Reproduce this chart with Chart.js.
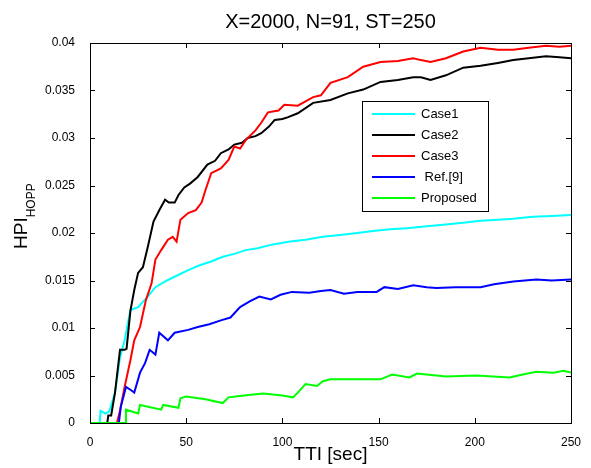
<!DOCTYPE html>
<html>
<head>
<meta charset="utf-8">
<script src="https://cdn.jsdelivr.net/npm/chart.js@4.4.1/dist/chart.umd.min.js"></script>
<style>
  body { margin: 0; background: #fff; }
  canvas { display: block; }
</style>
</head>
<body>
<canvas id="hpiChart" width="591" height="468"></canvas>
<script>
// ================= Data =================
const chartTitle = "X=2000, N=91, ST=250";
const xTicks = [0, 50, 100, 150, 200, 250];
const yTicks = [0, 0.005, 0.01, 0.015, 0.02, 0.025, 0.03, 0.035, 0.04];

const case1T = [0, 5, 5.5, 8, 10, 13, 15.6, 18, 21, 25, 30, 34, 40, 45, 51, 57, 63, 69, 75, 81, 87, 95, 104, 112, 121, 130, 139, 147, 156, 165, 175, 185, 195, 203, 212, 220, 230, 240, 250];
const case1V = [0, 0, 0.0013, 0.0010, 0.0012, 0.0032, 0.0069, 0.0087, 0.0119, 0.0122, 0.0133, 0.0143, 0.0150, 0.0155, 0.0161, 0.0166, 0.0170, 0.0175, 0.0178, 0.0182, 0.0184, 0.0188, 0.0191, 0.0193, 0.0196, 0.0198, 0.0200, 0.0202, 0.0204, 0.0205, 0.0207, 0.0209, 0.0211, 0.0213, 0.0214, 0.0215, 0.0217, 0.0218, 0.0219];

const case2T = [0, 9, 9.5, 11, 13, 15.6, 18, 19, 21, 23, 25, 27.5, 30, 33, 36, 39, 41, 44, 46, 49, 52, 56, 61, 65, 68, 72, 75, 79, 82, 86, 89, 93, 96, 100, 103, 108, 116, 125, 134, 142, 151, 160, 168, 172, 177, 185, 194, 203, 212, 220, 228, 237, 244, 250];
const case2V = [0, 0, 0.0008, 0.0008, 0.0032, 0.0077, 0.0077, 0.0078, 0.0118, 0.0140, 0.0158, 0.0164, 0.0185, 0.0212, 0.0224, 0.0235, 0.0232, 0.0232, 0.0240, 0.0248, 0.0252, 0.0259, 0.0272, 0.0276, 0.0284, 0.0288, 0.0293, 0.0295, 0.0300, 0.0302, 0.0305, 0.0312, 0.0319, 0.0320, 0.0322, 0.0326, 0.0337, 0.0340, 0.0347, 0.0351, 0.0359, 0.0361, 0.0364, 0.0364, 0.0361, 0.0366, 0.0374, 0.0376, 0.0379, 0.0382, 0.0384, 0.0386, 0.0385, 0.0384];

const case3T = [0, 14, 15.6, 18, 21, 23, 26, 29, 32, 34, 37, 40.5, 43, 45, 47, 51, 55, 58, 60, 63, 68, 72, 75, 78, 81, 86, 89, 92.5, 98, 101, 108, 116, 120, 125, 134, 142, 151, 160, 168, 172, 177, 185, 194, 203, 212, 220, 228, 237, 244, 250];
const case3V = [0, 0, 0.0013, 0.0038, 0.0066, 0.0087, 0.0101, 0.0129, 0.0147, 0.0172, 0.0182, 0.0193, 0.0196, 0.0191, 0.0214, 0.0221, 0.0224, 0.0232, 0.0245, 0.0263, 0.0268, 0.0277, 0.0291, 0.0289, 0.0298, 0.0308, 0.0316, 0.0327, 0.0329, 0.0335, 0.0334, 0.0343, 0.0345, 0.0358, 0.0364, 0.0375, 0.0380, 0.0381, 0.0384, 0.0382, 0.0380, 0.0384, 0.0391, 0.0395, 0.0393, 0.0393, 0.0395, 0.0397, 0.0396, 0.0397];

const refT = [0, 15, 16, 18.7, 21, 23, 26, 28.6, 31, 34, 36, 40.5, 44, 51, 56, 62, 68, 73, 78, 83, 88, 94, 99, 105, 114, 120, 125, 132, 139, 149, 153, 160, 168, 175, 180, 190, 203, 210, 220, 232, 240, 250];
const refV = [0, 0, 0.0017, 0.0038, 0.0035, 0.0032, 0.0053, 0.0063, 0.0077, 0.0072, 0.0095, 0.0087, 0.0095, 0.0098, 0.0101, 0.0104, 0.0108, 0.0111, 0.0122, 0.0128, 0.0133, 0.0130, 0.0135, 0.0138, 0.0137, 0.0139, 0.0140, 0.0136, 0.0138, 0.0138, 0.0143, 0.0141, 0.0145, 0.0143, 0.0142, 0.0143, 0.0143, 0.0146, 0.0149, 0.0151, 0.0150, 0.0151];

const propT = [0, 18.5, 18.7, 25, 26, 37, 38, 46, 47, 50, 60, 69, 72, 80, 90, 100, 105.5, 108, 112, 118, 121, 125, 137, 151, 157, 166, 170, 185, 201, 218, 225, 232, 241, 246, 250];
const propV = [0, 0, 0.0014, 0.0010, 0.0019, 0.0014, 0.0019, 0.0016, 0.0026, 0.0028, 0.0025, 0.0021, 0.0027, 0.0029, 0.0031, 0.0029, 0.0027, 0.0032, 0.0041, 0.0039, 0.0044, 0.0046, 0.0046, 0.0046, 0.0051, 0.0048, 0.0052, 0.0049, 0.0050, 0.0048, 0.0051, 0.0054, 0.0053, 0.0055, 0.0053];

const seriesLabels = ["Case1", "Case2", "Case3", " Ref.[9]", "Proposed"];
const seriesColors = ["#00ffff", "#000000", "#ff0000", "#0000ff", "#00ff00"];

// ================= Helpers =================
const FONT = "'Liberation Sans', Arial, sans-serif";
Chart.defaults.font.family = FONT;
Chart.defaults.color = "#000";

function toPoints(ts, vs) {
    return ts.map((t, i) => ({ x: t, y: vs[i] }));
}

const seriesData = [
    toPoints(case1T, case1V),
    toPoints(case2T, case2V),
    toPoints(case3T, case3V),
    toPoints(refT, refV),
    toPoints(propT, propV)
];

// ================= Box, inward ticks, title, y label, legend =================
const matlabFrame = {
    id: "matlabFrame",
    afterDraw(chart) {
        const ctx = chart.ctx;
        const ca = chart.chartArea;
        const xs = chart.scales.x;
        const ys = chart.scales.y;

        ctx.save();
        ctx.strokeStyle = "#000";
        ctx.lineWidth = 1;
        ctx.strokeRect(Math.round(ca.left) + 0.5, Math.round(ca.top) + 0.5,
            Math.round(ca.right - ca.left), Math.round(ca.bottom - ca.top));

        const tl = 5;
        ctx.beginPath();
        xTicks.forEach(v => {
            const px = Math.round(xs.getPixelForValue(v)) + 0.5;
            ctx.moveTo(px, ca.bottom); ctx.lineTo(px, ca.bottom - tl);
            ctx.moveTo(px, ca.top); ctx.lineTo(px, ca.top + tl);
        });
        yTicks.forEach(v => {
            const py = Math.round(ys.getPixelForValue(v)) + 0.5;
            ctx.moveTo(ca.left, py); ctx.lineTo(ca.left + tl, py);
            ctx.moveTo(ca.right, py); ctx.lineTo(ca.right - tl, py);
        });
        ctx.stroke();

        // title
        ctx.fillStyle = "#000";
        ctx.font = "20px " + FONT;
        ctx.textAlign = "center";
        ctx.textBaseline = "alphabetic";
        ctx.fillText(chartTitle, (ca.left + ca.right) / 2, 28);

        // y label HPI with subscript HOPP
        ctx.save();
        ctx.translate(27, 249);
        ctx.rotate(-Math.PI / 2);
        ctx.textAlign = "left";
        ctx.font = "19px " + FONT;
        ctx.fillText("HPI", 0, 0);
        const w = ctx.measureText("HPI").width;
        ctx.font = "12px " + FONT;
        ctx.fillText("HOPP", w, 8);
        ctx.restore();

        // legend
        const lx = ca.left + 272, ly = ca.top + 58, lw = 126, lh = 110;
        ctx.fillStyle = "#fff";
        ctx.fillRect(lx, ly, lw, lh);
        ctx.strokeRect(lx + 0.5, ly + 0.5, lw, lh);
        ctx.font = "13px " + FONT;
        ctx.textAlign = "left";
        ctx.textBaseline = "middle";
        chart.data.datasets.forEach((ds, i) => {
            const y = ly + 13 + i * 21;
            ctx.strokeStyle = ds.borderColor;
            ctx.lineWidth = 2;
            ctx.beginPath();
            ctx.moveTo(lx + 10, y);
            ctx.lineTo(lx + 53, y);
            ctx.stroke();
            ctx.fillStyle = "#000";
            ctx.fillText(ds.label, lx + 59, y);
        });
        ctx.restore();
    }
};

// ================= Chart =================
const ctx = document.getElementById("hpiChart").getContext("2d");

new Chart(ctx, {
    type: "line",
    data: {
        datasets: seriesData.map((pts, i) => ({
            label: seriesLabels[i],
            data: pts,
            borderColor: seriesColors[i],
            borderWidth: 2,
            pointRadius: 0,
            tension: 0,
            fill: false,
            order: 5 - i
        }))
    },
    options: {
        responsive: false,
        animation: false,
        layout: { padding: { top: 43, right: 20, left: 0, bottom: 0 } },
        plugins: {
            legend: { display: false },
            title: { display: false },
            tooltip: { enabled: false }
        },
        scales: {
            x: {
                type: "linear",
                min: 0,
                max: 250,
                afterBuildTicks(scale) {
                    scale.ticks = xTicks.map(v => ({ value: v }));
                },
                ticks: { font: { size: 12 }, color: "#000", padding: 4, maxRotation: 0 },
                grid: { display: false },
                border: { display: false },
                title: {
                    display: true,
                    text: "TTI [sec]",
                    font: { size: 19 },
                    color: "#000",
                    padding: { top: 0, bottom: 2 }
                },
                afterFit(scale) { scale.height = 45; }
            },
            y: {
                type: "linear",
                min: 0,
                max: 0.04,
                afterBuildTicks(scale) {
                    scale.ticks = yTicks.map(v => ({ value: v }));
                },
                ticks: {
                    font: { size: 12 },
                    color: "#000",
                    padding: 7,
                    callback: v => String(+v.toFixed(3))
                },
                grid: { display: false },
                border: { display: false },
                afterFit(scale) { scale.width = 90; }
            }
        }
    },
    plugins: [matlabFrame]
});
</script>
</body>
</html>
